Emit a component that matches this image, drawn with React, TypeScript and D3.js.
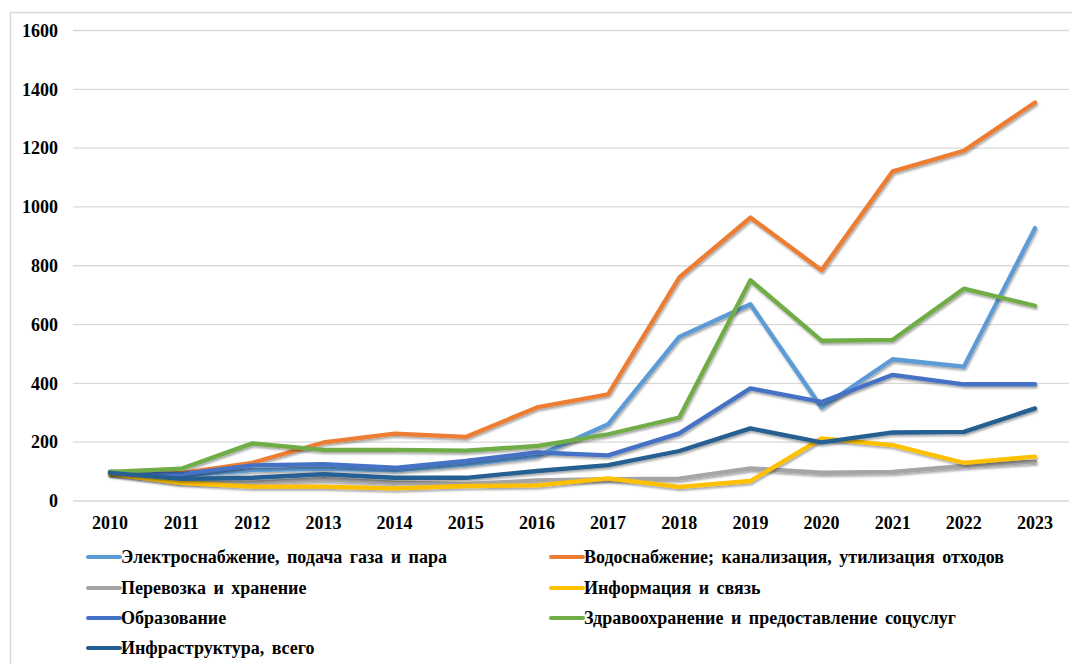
import React from "react";
import * as d3 from "d3";

const years = ["2010","2011","2012","2013","2014","2015","2016","2017","2018","2019","2020","2021","2022","2023"];
const yTicks = [0, 200, 400, 600, 800, 1000, 1200, 1400, 1600];

const seriesNames = [
  "Электроснабжение, подача газа и пара",
  "Водоснабжение; канализация, утилизация отходов",
  "Перевозка и хранение",
  "Информация и связь",
  "Образование",
  "Здравоохранение и предоставление соцуслуг",
  "Инфраструктура, всего",
];
const seriesColors = ["#5B9BD5", "#ED7D31", "#A5A5A5", "#FFC000", "#4472C4", "#70AD47", "#255E91"];

const electro = [100, 86, 105, 110, 104, 124, 152, 261, 558, 669, 318, 482, 457, 928];
const water = [96, 95, 130, 199, 229, 218, 318, 363, 760, 964, 785, 1121, 1191, 1355];
const transport = [95, 65, 62, 74, 62, 57, 70, 74, 76, 111, 96, 99, 119, 134];
const infoComm = [92, 62, 49, 49, 43, 51, 53, 77, 48, 68, 213, 190, 130, 151];
const education = [99, 91, 121, 125, 113, 136, 165, 155, 230, 383, 337, 429, 397, 397];
const health = [99, 110, 196, 174, 174, 171, 187, 227, 284, 751, 545, 548, 722, 664];
const infra = [96, 75, 79, 91, 79, 79, 102, 122, 170, 247, 199, 233, 235, 315];

const seriesValues = [electro, water, transport, infoComm, education, health, infra];

export default function App() {
  const W = 1072, H = 664;
  const x = d3.scalePoint<string>().domain(years).range([110, 1035]);
  const y = d3.scaleLinear().domain([0, 1600]).range([501, 30.5]);
  const line = d3.line<number>().x((_, i) => x(years[i]) as number).y((v) => y(v));
  const font = "'Liberation Serif', 'Times New Roman', 'DejaVu Serif', serif";
  const legendPos = [
    [88, 557], [551, 557], [88, 588], [551, 588], [88, 618], [551, 618], [88, 648],
  ];
  const ts = { fontFamily: font, fontWeight: 700 as const };
  return (
    <svg width={W} height={H} style={{ position: "absolute", left: 0, top: 0, background: "#fff" }}>
      <defs>
        <filter id="sh" x="-5%" y="-5%" width="110%" height="120%">
          <feDropShadow dx="1" dy="2" stdDeviation="1.2" floodColor="#000" floodOpacity="0.35" />
        </filter>
      </defs>
      <rect x={10.5} y={12.5} width={1070} height={700} fill="#fff" stroke="#d9d9d9" strokeWidth={1.5} />
      {yTicks.map((t) => (
        <g key={t}>
          <line x1={73} x2={1069} y1={y(t)} y2={y(t)} stroke="#d9d9d9" strokeWidth={1.3} />
          <text x={58} y={y(t)} dy="0.35em" textAnchor="end" fontSize={18} fill="#000" style={ts}>{t}</text>
        </g>
      ))}
      {years.map((yr) => (
        <text key={yr} x={x(yr)} y={529} textAnchor="middle" fontSize={18} fill="#000" style={ts}>{yr}</text>
      ))}
      {seriesValues.map((vals, i) => (
        <path key={i} d={line(vals) || ""} fill="none" stroke={seriesColors[i]} strokeWidth={4.3} strokeLinejoin="round" strokeLinecap="round" filter="url(#sh)" />
      ))}
      {seriesNames.map((name, i) => {
        const [lx, ly] = legendPos[i];
        return (
          <g key={name}>
            <line x1={lx} x2={lx + 32} y1={ly} y2={ly} stroke={seriesColors[i]} strokeWidth={4} strokeLinecap="round" />
            <text x={lx + 33} y={ly} dy="0.35em" fontSize={18} fill="#000" style={{ ...ts, wordSpacing: "3px" }}>{name}</text>
          </g>
        );
      })}
    </svg>
  );
}
